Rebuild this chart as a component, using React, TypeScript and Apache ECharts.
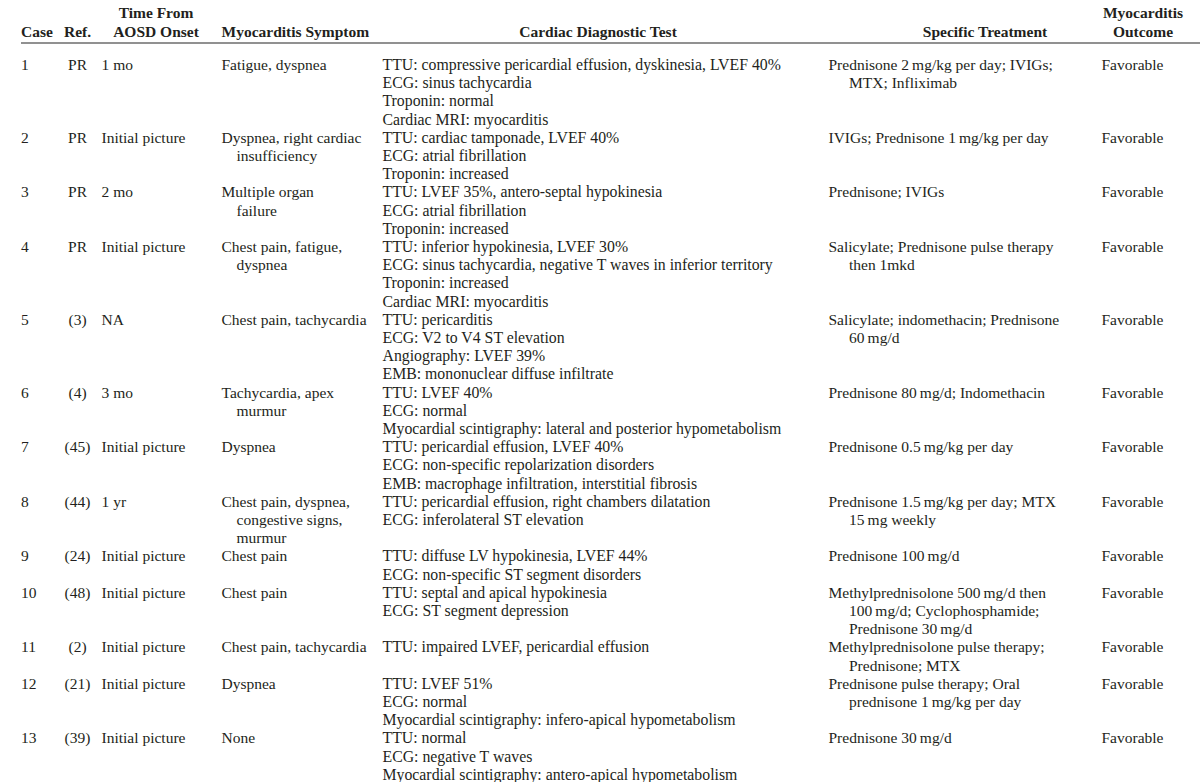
import React, { useEffect, useRef } from "react";
import * as echarts from "echarts";

const headers = ["Case", "Ref.", "Time From|AOSD Onset", "Myocarditis Symptom", "Cardiac Diagnostic Test", "Specific Treatment", "Myocarditis|Outcome"];

const cases = ["1", "2", "3", "4", "5", "6", "7", "8", "9", "10", "11", "12", "13"];
const refs = ["PR", "PR", "PR", "PR", "(3)", "(4)", "(45)", "(44)", "(24)", "(48)", "(2)", "(21)", "(39)"];
const times = ["1 mo", "Initial picture", "2 mo", "Initial picture", "NA", "3 mo", "Initial picture", "1 yr", "Initial picture", "Initial picture", "Initial picture", "Initial picture", "Initial picture"];
const symptoms = [
  ["Fatigue, dyspnea"],
  ["Dyspnea, right cardiac", "insufficiency"],
  ["Multiple organ", "failure"],
  ["Chest pain, fatigue,", "dyspnea"],
  ["Chest pain, tachycardia"],
  ["Tachycardia, apex", "murmur"],
  ["Dyspnea"],
  ["Chest pain, dyspnea,", "congestive signs,", "murmur"],
  ["Chest pain"],
  ["Chest pain"],
  ["Chest pain, tachycardia"],
  ["Dyspnea"],
  ["None"],
];
const tests = [
  ["TTU: compressive pericardial effusion, dyskinesia, LVEF 40%", "ECG: sinus tachycardia", "Troponin: normal", "Cardiac MRI: myocarditis"],
  ["TTU: cardiac tamponade, LVEF 40%", "ECG: atrial fibrillation", "Troponin: increased"],
  ["TTU: LVEF 35%, antero-septal hypokinesia", "ECG: atrial fibrillation", "Troponin: increased"],
  ["TTU: inferior hypokinesia, LVEF 30%", "ECG: sinus tachycardia, negative T waves in inferior territory", "Troponin: increased", "Cardiac MRI: myocarditis"],
  ["TTU: pericarditis", "ECG: V2 to V4 ST elevation", "Angiography: LVEF 39%", "EMB: mononuclear diffuse infiltrate"],
  ["TTU: LVEF 40%", "ECG: normal", "Myocardial scintigraphy: lateral and posterior hypometabolism"],
  ["TTU: pericardial effusion, LVEF 40%", "ECG: non-specific repolarization disorders", "EMB: macrophage infiltration, interstitial fibrosis"],
  ["TTU: pericardial effusion, right chambers dilatation", "ECG: inferolateral ST elevation"],
  ["TTU: diffuse LV hypokinesia, LVEF 44%", "ECG: non-specific ST segment disorders"],
  ["TTU: septal and apical hypokinesia", "ECG: ST segment depression"],
  ["TTU: impaired LVEF, pericardial effusion"],
  ["TTU: LVEF 51%", "ECG: normal", "Myocardial scintigraphy: infero-apical hypometabolism"],
  ["TTU: normal", "ECG: negative T waves", "Myocardial scintigraphy: antero-apical hypometabolism"],
];
const treatments = [
  ["Prednisone 2\u2009mg/kg per day; IVIGs;", "MTX; Infliximab"],
  ["IVIGs; Prednisone 1\u2009mg/kg per day"],
  ["Prednisone; IVIGs"],
  ["Salicylate; Prednisone pulse therapy", "then 1mkd"],
  ["Salicylate; indomethacin; Prednisone", "60\u2009mg/d"],
  ["Prednisone 80\u2009mg/d; Indomethacin"],
  ["Prednisone 0.5\u2009mg/kg per day"],
  ["Prednisone 1.5\u2009mg/kg per day; MTX", "15\u2009mg weekly"],
  ["Prednisone 100\u2009mg/d"],
  ["Methylprednisolone 500\u2009mg/d then", "100\u2009mg/d; Cyclophosphamide;", "Prednisone 30\u2009mg/d"],
  ["Methylprednisolone pulse therapy;", "Prednisone; MTX"],
  ["Prednisone pulse therapy; Oral", "prednisone 1\u2009mg/kg per day"],
  ["Prednisone 30\u2009mg/d"],
];
const outcomes = ["Favorable", "Favorable", "Favorable", "Favorable", "Favorable", "Favorable", "Favorable", "Favorable", "Favorable", "Favorable", "Favorable", "Favorable", "Favorable"];

const FONT = "'Liberation Serif', 'Times New Roman', serif";
const FS = 15.5;
const FS_TEST = 15.8;
const COLOR = "#231f20";
const LINE_H = 18.2;
const FIRST_Y = 64.5;

export default function App() {
  const ref = useRef<HTMLDivElement>(null);
  useEffect(() => {
    document.body.style.margin = "0";
    const chart = echarts.init(ref.current!, null, { renderer: "svg" });
    const els: any[] = [];
    const txt = (s: string, x: number, y: number, align: string, bold = false, fs = FS) => {
      els.push({
        type: "text",
        x,
        y,
        style: {
          text: s,
          fill: COLOR,
          font: `${bold ? "bold " : ""}${fs}px ${FONT}`,
          textAlign: align,
          textVerticalAlign: "middle",
        },
      });
    };
    // headers
    const hY1 = 12.5;
    const hY2 = 31.5;
    const hPos: [number, string][] = [
      [21, "left"],
      [77.5, "center"],
      [156, "center"],
      [221.5, "left"],
      [598, "center"],
      [985, "center"],
      [1143, "center"],
    ];
    headers.forEach((h, i) => {
      const parts = h.split("|");
      if (parts.length === 2) {
        txt(parts[0], hPos[i][0], hY1, hPos[i][1], true);
        txt(parts[1], hPos[i][0], hY2, hPos[i][1], true);
      } else {
        txt(parts[0], hPos[i][0], hY2, hPos[i][1], true);
      }
    });
    els.push({
      type: "line",
      shape: { x1: 21, y1: 43, x2: 1200, y2: 43 },
      style: { stroke: "#6d6d6d", lineWidth: 1.6 },
    });
    // rows
    let y = FIRST_Y;
    cases.forEach((c, i) => {
      txt(c, 21, y, "left");
      txt(refs[i], 77.5, y, "center");
      txt(times[i], 101.5, y, "left");
      symptoms[i].forEach((s, k) => txt(s, k === 0 ? 221.5 : 236.5, y + k * LINE_H, "left"));
      tests[i].forEach((s, k) => txt(s, 382.5, y + k * LINE_H, "left", false, FS_TEST));
      treatments[i].forEach((s, k) => txt(s, k === 0 ? 828.5 : 849, y + k * LINE_H, "left"));
      txt(outcomes[i], 1101.5, y, "left");
      const n = Math.max(1, symptoms[i].length, tests[i].length, treatments[i].length);
      y += n * LINE_H;
    });
    chart.setOption({ animation: false, graphic: { elements: els } });
    return () => chart.dispose();
  }, []);
  return <div ref={ref} style={{ width: 1200, height: 782, background: "#fff" }} />;
}
